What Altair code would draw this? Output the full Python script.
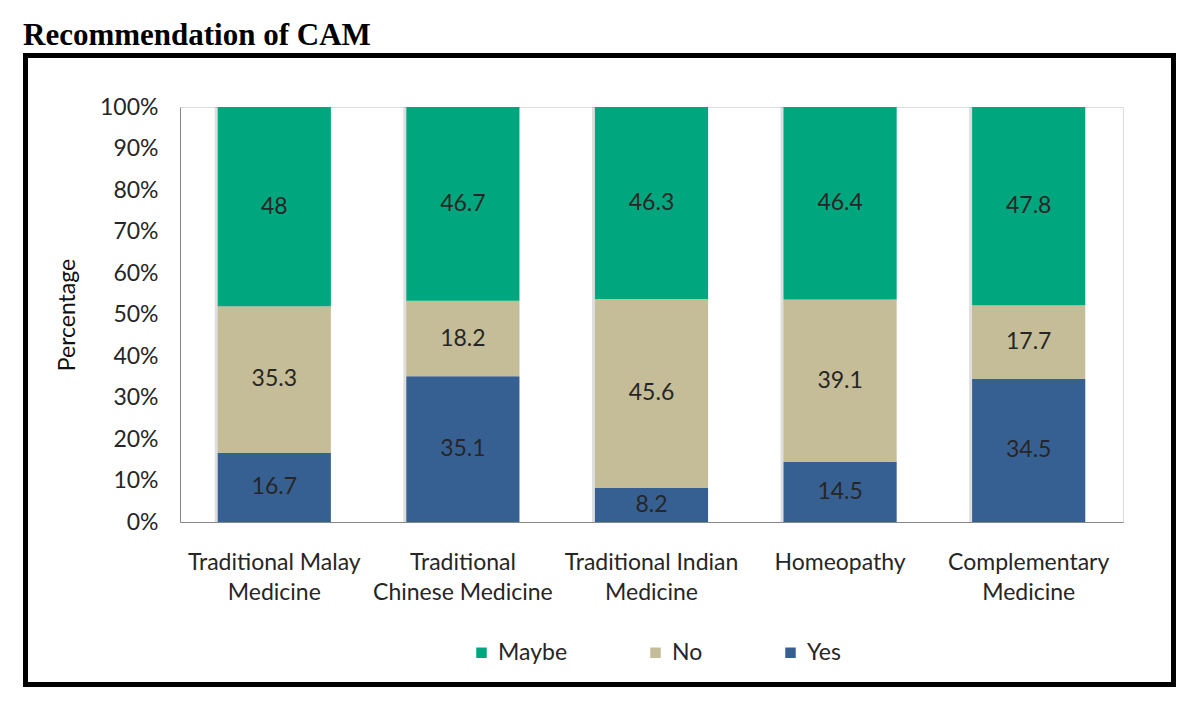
import altair as alt
import pandas as pd

# ---- data ----
categories = [
    "Traditional Malay\nMedicine",
    "Traditional\nChinese Medicine",
    "Traditional Indian\nMedicine",
    "Homeopathy",
    "Complementary\nMedicine",
]
yes_vals = [16.7, 35.1, 8.2, 14.5, 34.5]
no_vals = [35.3, 18.2, 45.6, 39.1, 17.7]
maybe_vals = [48, 46.7, 46.3, 46.4, 47.8]
series = ["Maybe", "No", "Yes"]
series_colors = ["#00A77E", "#C4BD97", "#376092"]
y_ticks = [0, 0.1, 0.2, 0.3, 0.4, 0.5, 0.6, 0.7, 0.8, 0.9, 1.0]
chart_title = "Recommendation of CAM"
y_title = "Percentage"

rows = []
for i, c in enumerate(categories):
    for s, vals, o in [("Yes", yes_vals, 0), ("No", no_vals, 1), ("Maybe", maybe_vals, 2)]:
        rows.append({"category": c, "series": s, "value": vals[i], "order": o,
                     "label": f"{vals[i]:g}"})
df = pd.DataFrame(rows)

FONT = "Lato"
TXT = "#262626"
FS = 23

base = alt.Chart(df).transform_stack(
    stack="value", groupby=["category"], as_=["y0", "y1"], offset="normalize",
    sort=[alt.SortField("order", order="ascending")],
).transform_calculate(mid="(datum.y0 + datum.y1) / 2")

x_axis = alt.Axis(
    title=None, labelAngle=0, labelAlign="center",
    labelExpr="split(datum.label, '\\n')",
    labelFont=FONT, labelFontSize=FS, labelColor=TXT, labelPadding=29,
    labelLineHeight=30, labelBaseline="top", ticks=False,
    domainColor="#868686", domainWidth=1, labelLimit=400,
)
x_scale = alt.Scale(paddingInner=0.4, paddingOuter=0.2)
x_enc = alt.X("category:N", sort=categories, scale=x_scale, axis=x_axis)

y_enc = alt.Y(
    "y0:Q", scale=alt.Scale(domain=[0, 1]),
    axis=alt.Axis(
        format=".0%", values=y_ticks, grid=False, ticks=False,
        title=y_title, titleFont=FONT, titleFontSize=FS, titleFontWeight="normal",
        titleColor="#111111", titlePadding=20,
        labelFont=FONT, labelFontSize=FS, labelColor=TXT, labelPadding=22,
        domainColor="#868686", domainWidth=1,
    ),
)

shadow = base.mark_bar(color="#000000", opacity=0.13, xOffset=-3).encode(
    x=x_enc, y=y_enc, y2="y1:Q",
)

bars = base.mark_bar().encode(
    x=x_enc,
    y=y_enc,
    y2="y1:Q",
    color=alt.Color(
        "series:N",
        scale=alt.Scale(domain=series, range=series_colors),
        legend=alt.Legend(
            orient="none", direction="horizontal", legendX=290, legendY=534,
            title=None, symbolType="square", symbolSize=110, symbolStrokeWidth=0,
            labelFont=FONT, labelFontSize=FS, labelColor=TXT, labelOffset=5,
            columnPadding=76, padding=0,
        ),
    ),
)

labels = base.mark_text(font=FONT, fontSize=FS, color=TXT, baseline="middle").encode(
    x=x_enc,
    y=alt.Y("mid:Q"),
    text="label:N",
)

title_layer = alt.Chart(alt.Data(values=[{"t": chart_title}])).mark_text(
    align="left", baseline="alphabetic", font="Liberation Serif",
    fontWeight="bold", fontSize=31, color="black",
).encode(x=alt.value(-157), y=alt.value(-62), text="t:N")

border = alt.Chart(alt.Data(values=[{"b": 1}])).mark_rect(
    fill="transparent", stroke="black", strokeWidth=5,
).encode(x=alt.value(-154.5), x2=alt.value(993.5), y=alt.value(-51.5), y2=alt.value(577.5))

chart = alt.layer(shadow, bars, labels, title_layer, border).properties(
    width=943, height=415,
    autosize=alt.AutoSizeParams(type="none"),
    padding={"left": 172, "top": 99, "right": 60, "bottom": 175},
).configure_view(strokeWidth=0).configure(background="white")

chart.save("out.html", embed_options={"renderer": "svg", "actions": False})
